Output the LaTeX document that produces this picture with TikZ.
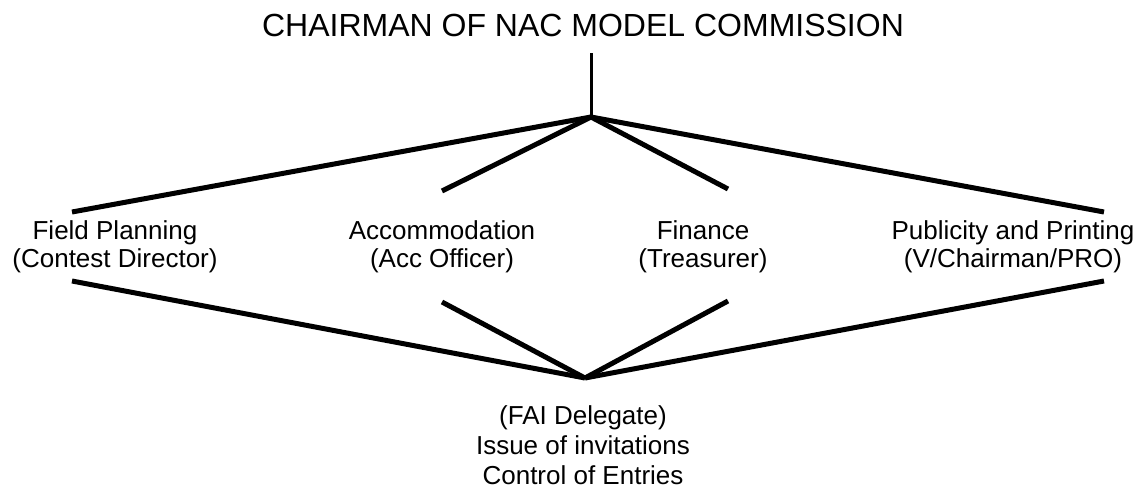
\documentclass[tikz,border=0pt]{standalone}
\usepackage{fontspec}
\setmainfont{Liberation Sans}

\begin{document}
\begin{tikzpicture}[x=1pt,y=-1pt]
\tikzstyle{every node}+=[inner sep=0pt]
\tikzstyle{label}=[align=center,font=\fontsize{26}{28}\selectfont]
\tikzstyle{link}=[black,line width=5pt]
\useasboundingbox (0,0) rectangle (1146,488);
\draw (583,25) node (chair) {\fontsize{32}{36}\selectfont CHAIRMAN OF NAC MODEL COMMISSION};
\draw (115,247) node [label] (field) {Field Planning\\(Contest Director)};
\draw (442,247) node [label] (acc) {Accommodation\\(Acc Officer)};
\draw (703,247) node [label] (fin) {Finance\\(Treasurer)};
\draw (1013,247) node [label] (pub) {Publicity and Printing\\(V/Chairman/PRO)};
\draw (583,445) node [align=center,font=\fontsize{26}{30}\selectfont] (fai) {(FAI Delegate)\\Issue of invitations\\Control of Entries};
\coordinate (stem) at (591,53);
\coordinate (top) at (591,117);
\coordinate (bot) at (585,378);
\coordinate (field-in) at (72,212);
\coordinate (field-out) at (72,281);
\coordinate (acc-in) at (442,191);
\coordinate (acc-out) at (442,302);
\coordinate (fin-in) at (728,189);
\coordinate (fin-out) at (728,301);
\coordinate (pub-in) at (1104,212);
\coordinate (pub-out) at (1104,281);
\draw [black,line width=3pt] (stem) -- (top);
\draw [link] (top) -- (field-in);
\draw [link] (top) -- (acc-in);
\draw [link] (top) -- (fin-in);
\draw [link] (top) -- (pub-in);
\draw [link] (field-out) -- (bot);
\draw [link] (acc-out) -- (bot);
\draw [link] (fin-out) -- (bot);
\draw [link] (pub-out) -- (bot);
\end{tikzpicture}
\end{document}
